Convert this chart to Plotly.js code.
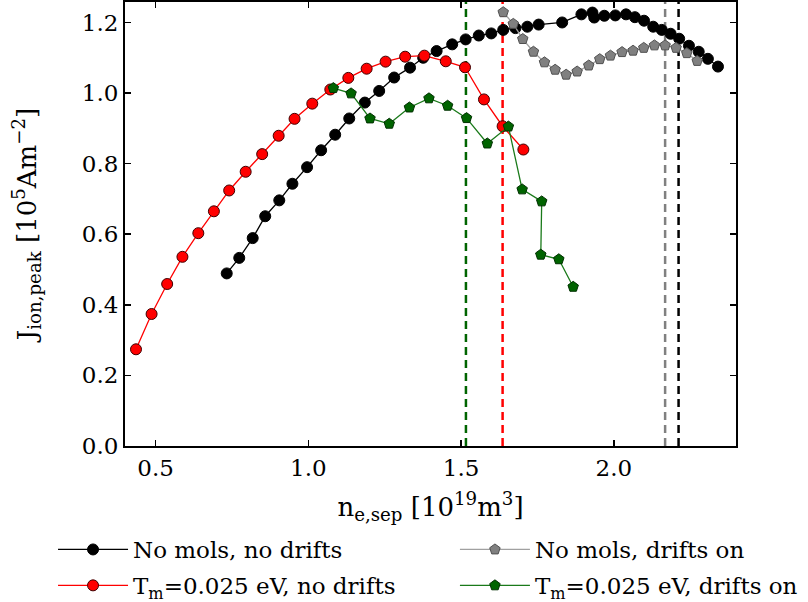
<!DOCTYPE html>
<html>
<head>
<meta charset="utf-8">
<script src="https://cdn.plot.ly/plotly-3.0.1.min.js"></script>
<style>html,body{margin:0;padding:0;background:#fff;}#chart{width:808px;height:602px;}</style>
</head>
<body>
<div id="chart"></div>
<script>
// ---- data ----
const blackX = [0.733,0.774,0.818,0.859,0.905,0.948,0.996,1.042,1.088,1.134,1.185,1.232,1.281,1.333,1.376,1.420,1.471,1.515,1.558,1.599,1.638,1.678,1.717,1.754,1.831,1.894,1.930,1.936,1.969,2.005,2.040,2.069,2.099,2.129,2.157,2.186,2.214,2.246,2.278,2.308,2.341];
const blackY = [0.489,0.533,0.589,0.651,0.696,0.743,0.790,0.838,0.882,0.928,0.973,1.006,1.044,1.072,1.100,1.119,1.138,1.152,1.163,1.169,1.179,1.184,1.188,1.194,1.200,1.223,1.228,1.214,1.219,1.220,1.223,1.215,1.205,1.188,1.179,1.168,1.154,1.134,1.117,1.097,1.075];

const redX = [0.436,0.487,0.538,0.588,0.640,0.691,0.741,0.795,0.849,0.903,0.955,1.013,1.072,1.131,1.191,1.253,1.317,1.380,1.450,1.513,1.575,1.636,1.704];
const redY = [0.274,0.374,0.459,0.536,0.603,0.665,0.724,0.777,0.827,0.879,0.927,0.970,1.010,1.043,1.069,1.089,1.103,1.106,1.090,1.073,0.982,0.906,0.840];

const grayX = [1.638,1.671,1.702,1.737,1.773,1.808,1.844,1.880,1.918,1.954,1.989,2.027,2.063,2.098,2.133,2.168,2.204,2.239,2.273];
const grayY = [1.229,1.196,1.153,1.117,1.087,1.066,1.052,1.061,1.078,1.096,1.106,1.116,1.120,1.128,1.135,1.135,1.128,1.113,1.091];

const greenX = [1.082,1.140,1.202,1.265,1.331,1.395,1.456,1.518,1.586,1.655,1.700,1.764,1.761,1.820,1.867];
const greenY = [1.014,0.999,0.928,0.913,0.959,0.985,0.964,0.929,0.857,0.905,0.727,0.693,0.542,0.529,0.451];

// vertical separatrix markers
const vlineX = [1.516, 1.636, 2.168, 2.212];
const vlineColors = ['#006400', '#ff0000', '#808080', '#000000'];

const seriesNames = ['No mols, no drifts', 'No mols, drifts on', 'T<sub>m</sub>=0.025 eV, no drifts', 'T<sub>m</sub>=0.025 eV, drifts on'];
const xTicks = [0.5, 1.0, 1.5, 2.0];
const xTickText = ['0.5', '1.0', '1.5', '2.0'];
const yTicks = [0.0, 0.2, 0.4, 0.6, 0.8, 1.0, 1.2];
const yTickText = ['0.0', '0.2', '0.4', '0.6', '0.8', '1.0', '1.2'];

const FONT = 'DejaVu Serif, Liberation Serif, serif';
const FS = 23;

const traces = [
  {x: blackX, y: blackY, name: seriesNames[0], legend: 'legend', legendgroup: 'a', mode: 'lines+markers', type: 'scatter',
   line: {color: '#000000', width: 1.3},
   marker: {symbol: 'circle', size: 11, color: '#000000', line: {color: '#000000', width: 1}}},
  {x: grayX, y: grayY, name: seriesNames[1], legend: 'legend2', legendgroup: 'b', mode: 'lines+markers', type: 'scatter',
   line: {color: '#a0a0a0', width: 1.3},
   marker: {symbol: 'pentagon', size: 11, color: '#808080', line: {color: '#505050', width: 1}}},
  {x: redX, y: redY, name: seriesNames[2], legend: 'legend', legendgroup: 'c', mode: 'lines+markers', type: 'scatter',
   line: {color: '#ff0000', width: 1.3},
   marker: {symbol: 'circle', size: 11, color: '#ff0000', line: {color: '#400000', width: 1}}},
  {x: greenX, y: greenY, name: seriesNames[3], legend: 'legend2', legendgroup: 'd', mode: 'lines+markers', type: 'scatter',
   line: {color: '#1a7a1a', width: 1.3},
   marker: {symbol: 'pentagon', size: 11, color: '#006400', line: {color: '#003000', width: 1}}}
];

const shapes = vlineX.map((xv, i) => ({
  type: 'line', xref: 'x', yref: 'paper', x0: xv, x1: xv, y0: 0, y1: 1, layer: 'below',
  line: {color: vlineColors[i], width: 2.5, dash: '8px,5px'}
}));

const legendBase = {orientation: 'v', xref: 'paper', yref: 'paper', xanchor: 'left', yanchor: 'top', y: -0.1847,
  font: {family: FONT, size: FS, color: '#000'}, traceorder: 'grouped', tracegroupgap: 3,
  bgcolor: 'rgba(0,0,0,0)', itemwidth: 70, borderwidth: 0};

const layout = {
  width: 808, height: 602,
  margin: {l: 125, r: 72, t: 2, b: 156, autoexpand: false},
  paper_bgcolor: '#ffffff', plot_bgcolor: '#ffffff',
  font: {family: FONT, size: FS, color: '#000000'},
  showlegend: true,
  legend: Object.assign({}, legendBase, {x: -0.1178}),
  legend2: Object.assign({}, legendBase, {x: 0.540}),
  xaxis: {range: [0.4, 2.4], tickvals: xTicks, ticktext: xTickText, ticks: 'inside', ticklen: 6, tickwidth: 1.5,
          tickcolor: '#000', showline: true, linecolor: '#000', linewidth: 2, mirror: 'allticks',
          showgrid: false, zeroline: false, tickfont: {family: FONT, size: FS},
          title: {text: 'n<sub>e,sep</sub> [10<sup>19</sup>m<sup>3</sup>]', font: {family: FONT, size: 26}, standoff: 18}},
  yaxis: {range: [0, 1.258], tickvals: yTicks, ticktext: yTickText, ticks: 'inside', ticklen: 6, tickwidth: 1.5,
          tickcolor: '#000', showline: true, linecolor: '#000', linewidth: 2, mirror: 'allticks',
          showgrid: false, zeroline: false, tickfont: {family: FONT, size: FS},
          title: {text: 'J<sub>ion,peak</sub> [10<sup>5</sup>Am<sup>−2</sup>]', font: {family: FONT, size: 26}, standoff: 38}},
  shapes: shapes
};

Plotly.newPlot('chart', traces, layout, {displayModeBar: false, staticPlot: true});
</script>
</body>
</html>
